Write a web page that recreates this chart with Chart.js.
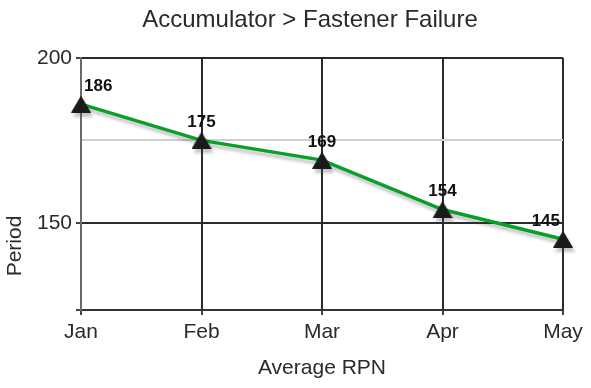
<!DOCTYPE html>
<html>
<head>
<meta charset="utf-8">
<title>Accumulator &gt; Fastener Failure</title>
<script src="https://cdn.jsdelivr.net/npm/chart.js@4.4.1/dist/chart.umd.min.js"></script>
<style>
  html, body { margin: 0; padding: 0; background: #fff; }
</style>
</head>
<body>
<canvas id="myChart" width="591" height="388"></canvas>
<script>
'use strict';

// chart data

let months = ['Jan', 'Feb', 'Mar', 'Apr', 'May'];
let periodValues = [186, 175, 169, 154, 145];
let yTickLabels = [150, 200];
let yLightLine = 175;
let yMin = 123.5;
let yMax = 200;

let chartTitle = 'Accumulator > Fastener Failure';
let xTitle = 'Average RPN';
let yTitle = 'Period';

let fontName = '"Liberation Sans", Arial, sans-serif';
let textColor = '#2a2a2a';

// triangle marker drawn once on a small canvas so it sits centred on the point
function makeTriangle(w, h) {
  let c = document.createElement('canvas');
  c.width = w;
  c.height = h;
  let g = c.getContext('2d');
  g.fillStyle = '#1b1b1b';
  g.beginPath();
  g.moveTo(w / 2, 0);
  g.lineTo(w, h);
  g.lineTo(0, h);
  g.closePath();
  g.fill();
  return c;
}

// grey drop shadow under the line and markers
let lineShadow = {
  id: 'lineShadow',
  beforeDatasetsDraw(chart) {
    let ctx = chart.ctx;
    ctx.save();
    ctx.shadowColor = 'rgba(70, 60, 80, 0.3)';
    ctx.shadowOffsetX = 2;
    ctx.shadowOffsetY = 4;
    ctx.shadowBlur = 3;
  },
  afterDatasetsDraw(chart) {
    chart.ctx.restore();
  }
};

// value above every point, kept inside the plot area
let valueLabels = {
  id: 'valueLabels',
  afterDatasetsDraw(chart) {
    let ctx = chart.ctx;
    let area = chart.chartArea;
    let meta = chart.getDatasetMeta(0);
    ctx.save();
    ctx.font = 'bold 17px ' + fontName;
    ctx.fillStyle = '#111';
    ctx.textAlign = 'center';
    ctx.textBaseline = 'middle';
    meta.data.forEach(function(pt, i) {
      let text = String(periodValues[i]);
      let half = ctx.measureText(text).width / 2;
      let x = Math.min(Math.max(pt.x, area.left + 3 + half), area.right - 3 - half);
      ctx.fillText(text, x, pt.y - 18);
    });
    ctx.restore();
  }
};

// chart title and rotated y title, placed like the original
let outerTitles = {
  id: 'outerTitles',
  afterDraw(chart) {
    let ctx = chart.ctx;
    ctx.save();
    ctx.fillStyle = textColor;
    ctx.textAlign = 'center';
    ctx.textBaseline = 'middle';
    ctx.font = '24px ' + fontName;
    ctx.fillText(chartTitle, 310, 20);
    ctx.translate(15, 246);
    ctx.rotate(-Math.PI / 2);
    ctx.font = '21px ' + fontName;
    ctx.fillText(yTitle, 0, 0);
    ctx.restore();
  }
};

const ctx = document.getElementById('myChart').getContext('2d');

let myChart = new Chart(ctx, {
  type: 'line',
  data: {
    labels: months,
    datasets: [{
      data: periodValues,
      borderColor: '#0aa028',
      borderWidth: 3.5,
      tension: 0,
      fill: false,
      clip: false,
      pointStyle: makeTriangle(20, 17),
      pointRadius: 10
    }]
  },
  options: {
    responsive: false,
    animation: false,
    events: [],
    layout: {
      padding: { left: 0, right: 28, top: 58, bottom: 0 }
    },
    plugins: {
      legend: { display: false },
      tooltip: { enabled: false },
      title: { display: false }
    },
    scales: {
      x: {
        offset: false,
        grid: {
          color: '#2b2b2b',
          lineWidth: 2,
          tickLength: 5,
          tickColor: '#444'
        },
        border: { color: '#333', width: 2 },
        ticks: {
          color: textColor,
          padding: 5,
          maxRotation: 0,
          font: { family: fontName, size: 21 }
        },
        title: {
          display: true,
          text: xTitle,
          color: textColor,
          font: { family: fontName, size: 21 },
          padding: { top: 4, bottom: 7 }
        },
        afterFit(scale) {
          scale.height = 78;
        }
      },
      y: {
        min: yMin,
        max: yMax,
        afterBuildTicks(scale) {
          let vals = [yMin, yLightLine].concat(yTickLabels).sort(function(a, b) { return a - b; });
          scale.ticks = vals.map(function(v) { return { value: v }; });
        },
        grid: {
          lineWidth: 2,
          tickLength: 5,
          color: function(c) {
            return c.tick && c.tick.value === yLightLine ? '#cfcfcf' : '#2b2b2b';
          },
          tickColor: function(c) {
            return c.tick && c.tick.value === yLightLine ? 'rgba(0,0,0,0)' : '#444';
          }
        },
        border: { color: '#6a6a6a', width: 2 },
        ticks: {
          color: textColor,
          padding: 4,
          font: { family: fontName, size: 21 },
          callback: function(value) {
            return yTickLabels.includes(value) ? value : '';
          }
        },
        afterFit(scale) {
          scale.width = 81;
        }
      }
    }
  },
  plugins: [lineShadow, valueLabels, outerTitles]
});
</script>
</body>
</html>
